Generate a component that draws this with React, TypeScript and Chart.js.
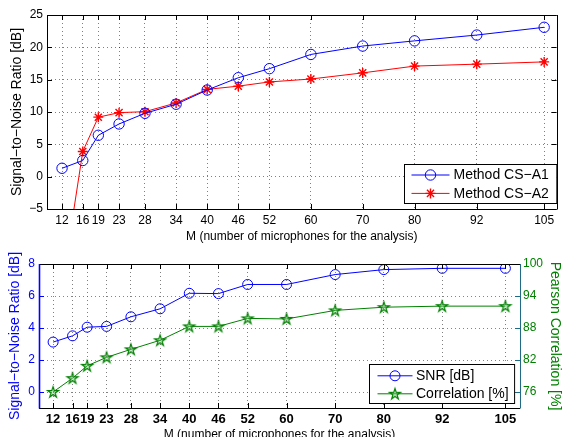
import React, { useEffect, useRef } from 'react';
import { Chart, registerables } from 'chart.js';

Chart.register(...registerables);

// ---- data ----
const M_VALUES = [12, 16, 19, 23, 28, 34, 40, 46, 52, 60, 70, 80, 92, 105];
const SNR_CS_A1 = [1.3, 2.5, 6.4, 8.15, 9.8, 11.2, 13.4, 15.3, 16.7, 18.9, 20.2, 21.0, 21.9, 23.1];
const SNR_CS_A2 = [-17, 3.9, 9.2, 9.9, 10.05, 11.4, 13.5, 14.0, 14.65, 15.1, 16.05, 17.1, 17.4, 17.75];
const SNR_DB = [3.12, 3.51, 4.05, 4.1, 4.7, 5.2, 6.17, 6.15, 6.72, 6.72, 7.34, 7.65, 7.73, 7.73];
const CORRELATION = [76.0, 78.6, 80.9, 82.5, 84.0, 85.7, 88.3, 88.3, 89.8, 89.7, 91.3, 91.9, 92.1, 92.1];
const TOP_Y_TICKS = [-5, 0, 5, 10, 15, 20, 25];
const BOTTOM_LEFT_TICKS = [0, 2, 4, 6, 8];
const BOTTOM_RIGHT_TICKS = [76, 82, 88, 94, 100];

const FONT = '"Liberation Sans", Arial, Helvetica, sans-serif';
const BLUE = '#0000ff';
const RED = '#ff0000';
const GREEN = '#008000';
const TEAL = '#1f6a86';

const fmt = (v: number) => String(v).replace('-', '\u2212');

function makePentagram(color: string, r: number): HTMLCanvasElement {
  const size = Math.ceil(r * 2 + 4);
  const c = document.createElement('canvas');
  c.width = size;
  c.height = size;
  const ctx = c.getContext('2d')!;
  const cx = size / 2;
  const cy = size / 2 + 0.4;
  const inner = r * 0.382;
  ctx.beginPath();
  for (let i = 0; i < 10; i++) {
    const rad = i % 2 === 0 ? r : inner;
    const a = -Math.PI / 2 + (i * Math.PI) / 5;
    const x = cx + rad * Math.cos(a);
    const y = cy + rad * Math.sin(a);
    if (i === 0) ctx.moveTo(x, y);
    else ctx.lineTo(x, y);
  }
  ctx.closePath();
  ctx.fillStyle = 'rgba(120,200,120,0.35)';
  ctx.fill();
  ctx.strokeStyle = color;
  ctx.lineWidth = 1.2;
  ctx.stroke();
  return c;
}

function drawMarker(ctx: CanvasRenderingContext2D, ds: any, x: number, y: number) {
  const style = ds.pointStyle;
  const r = ds.pointRadius;
  ctx.save();
  ctx.strokeStyle = ds.pointBorderColor || ds.borderColor;
  ctx.lineWidth = ds.pointBorderWidth || 1;
  if (style === 'circle') {
    ctx.beginPath();
    ctx.arc(x, y, r, 0, Math.PI * 2);
    ctx.stroke();
  } else if (style === 'star') {
    ctx.beginPath();
    for (let k = 0; k < 4; k++) {
      const a = (k * Math.PI) / 4;
      ctx.moveTo(x - r * Math.cos(a), y - r * Math.sin(a));
      ctx.lineTo(x + r * Math.cos(a), y + r * Math.sin(a));
    }
    ctx.stroke();
  } else if (style && style.width) {
    ctx.drawImage(style, x - style.width / 2, y - style.height / 2);
  }
  ctx.restore();
}

const framePlugin = {
  id: 'frame',
  afterDatasetsDraw(chart: any, _args: any, opts: any) {
    const { ctx, chartArea: a, scales } = chart;
    const L = 5;
    ctx.save();
    ctx.lineWidth = 1;
    const line = (x1: number, y1: number, x2: number, y2: number) => {
      ctx.beginPath();
      ctx.moveTo(x1, y1);
      ctx.lineTo(x2, y2);
      ctx.stroke();
    };
    ctx.strokeStyle = '#000';
    scales.x.ticks.forEach((t: any) => {
      const px = Math.round(scales.x.getPixelForValue(t.value)) + 0.5;
      line(px, a.bottom, px, a.bottom - L);
      line(px, a.top, px, a.top + L);
    });
    const yl = scales[opts.leftId];
    ctx.strokeStyle = opts.leftColor;
    yl.ticks.forEach((t: any) => {
      const py = Math.round(yl.getPixelForValue(t.value)) + 0.5;
      line(a.left, py, a.left + L, py);
      if (!opts.rightId) line(a.right, py, a.right - L, py);
    });
    if (opts.rightId) {
      const yr = scales[opts.rightId];
      ctx.strokeStyle = opts.rightColor;
      yr.ticks.forEach((t: any) => {
        const py = Math.round(yr.getPixelForValue(t.value)) + 0.5;
        line(a.right, py, a.right - L, py);
      });
    }
    ctx.strokeStyle = '#000';
    ctx.lineWidth = 1;
    line(a.left, Math.round(a.top) + 0.5, a.right, Math.round(a.top) + 0.5);
    line(a.left, Math.round(a.bottom) + 0.5, a.right, Math.round(a.bottom) + 0.5);
    ctx.strokeStyle = opts.leftColor;
    ctx.lineWidth = opts.leftWidth || 1;
    line(Math.round(a.left) + 0.5, a.top, Math.round(a.left) + 0.5, a.bottom + 0.5);
    ctx.strokeStyle = opts.rightColor;
    ctx.lineWidth = 1;
    line(Math.round(a.right) + 0.5, a.top, Math.round(a.right) + 0.5, a.bottom + 0.5);
    ctx.restore();
  },
};

const legendPlugin = {
  id: 'boxLegend',
  afterDraw(chart: any, _args: any, o: any) {
    const { ctx, chartArea } = chart;
    const items = chart.data.datasets;
    ctx.save();
    ctx.font = `14px ${FONT}`;
    const textW = Math.max(...items.map((d: any) => ctx.measureText(d.label).width));
    const w = o.padLeft + o.lineLen + o.gap + textW + o.padRight;
    const h = o.height;
    const x1 = Math.round(chartArea.right - o.right - w) + 0.5;
    const y1 = Math.round(chartArea.bottom - o.bottom - h) + 0.5;
    ctx.fillStyle = '#fff';
    ctx.fillRect(x1, y1, w, h);
    ctx.strokeStyle = '#000';
    ctx.lineWidth = 1;
    ctx.strokeRect(x1, y1, w, h);
    items.forEach((d: any, i: number) => {
      const cy = y1 + o.rowTop + i * o.rowGap;
      const lx = x1 + o.padLeft;
      ctx.strokeStyle = d.borderColor;
      ctx.lineWidth = d.borderWidth;
      ctx.beginPath();
      ctx.moveTo(lx, cy);
      ctx.lineTo(lx + o.lineLen, cy);
      ctx.stroke();
      drawMarker(ctx, d, lx + o.lineLen / 2, cy);
      ctx.fillStyle = '#000';
      ctx.textBaseline = 'middle';
      ctx.textAlign = 'left';
      ctx.fillText(d.label, lx + o.lineLen + o.gap, cy + 0.5);
    });
    ctx.restore();
  },
};

const points = (ys: number[]) => ys.map((y, i) => ({ x: M_VALUES[i], y }));

export default function App() {
  const topRef = useRef<HTMLCanvasElement>(null);
  const botRef = useRef<HTMLCanvasElement>(null);

  useEffect(() => {
    document.body.style.margin = '0';
    const pent = makePentagram(GREEN, 5.8);

    const xTicks = (s: any) => {
      s.ticks = M_VALUES.map((v) => ({ value: v }));
    };

    const top = new Chart(topRef.current!, {
      type: 'line',
      data: {
        datasets: [
          {
            label: 'Method CS\u2212A1',
            data: points(SNR_CS_A1),
            borderColor: BLUE,
            borderWidth: 1,
            pointStyle: 'circle',
            pointRadius: 5.2,
            pointBorderWidth: 1,
            pointBorderColor: BLUE,
            pointBackgroundColor: 'rgba(0,0,0,0)',
          } as any,
          {
            label: 'Method CS\u2212A2',
            data: points(SNR_CS_A2),
            borderColor: RED,
            borderWidth: 1,
            pointStyle: 'star',
            pointRadius: 5,
            pointBorderWidth: 1.4,
            pointBorderColor: RED,
            pointBackgroundColor: RED,
          } as any,
        ],
      },
      options: {
        responsive: false,
        animation: false,
        events: [],
        layout: { padding: { top: 15, right: 4, left: 0, bottom: 0 } },
        plugins: {
          legend: { display: false },
          tooltip: { enabled: false },
          frame: { leftId: 'y', leftColor: '#000', rightColor: '#000' },
          boxLegend: { padLeft: 7, lineLen: 38, gap: 4, padRight: 8, height: 39, right: 0, bottom: 6, rowTop: 10.5, rowGap: 18.4 },
        } as any,
        scales: {
          x: {
            type: 'linear',
            min: 9.1,
            max: 107.4,
            afterBuildTicks: xTicks,
            afterFit: (s: any) => {
              s.height = 41;
            },
            grid: { color: 'rgba(0,0,0,0.5)', drawTicks: false },
            border: { display: false, dash: [1, 3] },
            ticks: {
              autoSkip: false,
              maxRotation: 0,
              padding: 4,
              color: '#000',
              font: { family: FONT, size: 12 },
              callback: (v: any) => fmt(v),
            },
            title: {
              display: true,
              text: 'M (number of microphones for the analysis)',
              color: '#000',
              font: { family: FONT, size: 12 },
              padding: { top: 0, bottom: 6.5 },
            },
          },
          y: {
            type: 'linear',
            min: -5,
            max: 25,
            afterBuildTicks: (s: any) => {
              s.ticks = TOP_Y_TICKS.map((v) => ({ value: v }));
            },
            afterFit: (s: any) => {
              s.width = 47;
            },
            grid: { color: 'rgba(0,0,0,0.5)', drawTicks: false },
            border: { display: false, dash: [1, 3] },
            ticks: {
              padding: 4,
              color: '#000',
              font: { family: FONT, size: 12 },
              callback: (v: any) => fmt(v),
            },
            title: {
              display: true,
              text: 'Signal\u2212to\u2212Noise Ratio [dB]',
              color: '#000',
              font: { family: FONT, size: 14 },
              padding: { top: 8.6, bottom: 0 },
            },
          },
        },
      },
      plugins: [framePlugin, legendPlugin],
    });

    const bot = new Chart(botRef.current!, {
      type: 'line',
      data: {
        datasets: [
          {
            label: 'SNR [dB]',
            data: points(SNR_DB),
            yAxisID: 'y',
            borderColor: BLUE,
            borderWidth: 1,
            pointStyle: 'circle',
            pointRadius: 5,
            pointBorderWidth: 1,
            pointBorderColor: BLUE,
            pointBackgroundColor: 'rgba(0,0,0,0)',
          } as any,
          {
            label: 'Correlation [%]',
            data: points(CORRELATION),
            yAxisID: 'y1',
            borderColor: GREEN,
            borderWidth: 1,
            pointStyle: pent,
            pointRadius: 5,
            pointBorderWidth: 1,
            pointBorderColor: GREEN,
          } as any,
        ],
      },
      options: {
        responsive: false,
        animation: false,
        events: [],
        layout: { padding: { top: 14, right: 0, left: 0, bottom: 0 } },
        plugins: {
          legend: { display: false },
          tooltip: { enabled: false },
          frame: { leftId: 'y', rightId: 'y1', leftColor: BLUE, leftWidth: 1.6, rightColor: TEAL },
          boxLegend: { padLeft: 8, lineLen: 35, gap: 3.5, padRight: 6, height: 39, right: 6, bottom: 5, rowTop: 11.3, rowGap: 18 },
        } as any,
        scales: {
          x: {
            type: 'linear',
            min: 9.1,
            max: 108,
            afterBuildTicks: xTicks,
            afterFit: (s: any) => {
              s.height = 39;
            },
            grid: { color: 'rgba(0,0,0,0.5)', drawTicks: false },
            border: { display: false, dash: [1, 3] },
            ticks: {
              autoSkip: false,
              maxRotation: 0,
              padding: 4,
              color: '#000',
              font: { family: FONT, size: 13, weight: 'bold' },
              callback: (v: any) => fmt(v),
            },
            title: {
              display: true,
              text: 'M (number of microphones for the analysis)',
              color: '#000',
              font: { family: FONT, size: 12 },
              padding: { top: 0, bottom: 5 },
            },
          },
          y: {
            type: 'linear',
            position: 'left',
            min: -1,
            max: 8,
            afterBuildTicks: (s: any) => {
              s.ticks = BOTTOM_LEFT_TICKS.map((v) => ({ value: v }));
            },
            afterFit: (s: any) => {
              s.width = 39;
            },
            grid: { color: 'rgba(70,70,255,0.75)', drawTicks: false },
            border: { display: false, dash: [1, 3] },
            ticks: {
              padding: 4,
              color: BLUE,
              font: { family: FONT, size: 12 },
              callback: (v: any) => fmt(v),
            },
            title: {
              display: true,
              text: 'Signal\u2212to\u2212Noise Ratio [dB]',
              color: BLUE,
              font: { family: FONT, size: 14 },
              padding: { top: 6.6, bottom: 0 },
            },
          },
          y1: {
            type: 'linear',
            position: 'right',
            min: 73,
            max: 100,
            afterBuildTicks: (s: any) => {
              s.ticks = BOTTOM_RIGHT_TICKS.map((v) => ({ value: v }));
            },
            afterFit: (s: any) => {
              s.width = 43;
            },
            grid: { display: false, drawTicks: false },
            border: { display: false },
            ticks: {
              padding: 3,
              color: GREEN,
              font: { family: FONT, size: 12 },
              callback: (v: any) => fmt(v),
            },
            title: {
              display: true,
              text: 'Pearson Correlation [%]',
              color: GREEN,
              font: { family: FONT, size: 14 },
              padding: { top: 0, bottom: 0 },
            },
          },
        },
      },
      plugins: [framePlugin, legendPlugin],
    });

    return () => {
      top.destroy();
      bot.destroy();
    };
  }, []);

  return (
    <div
      style={{
        position: 'fixed',
        left: 0,
        top: 0,
        width: 563,
        height: 437,
        overflow: 'hidden',
        background: '#fff',
      }}
    >
      <canvas ref={topRef} width={563} height={250} style={{ position: 'absolute', left: 0, top: 0, display: 'block' }} />
      <canvas ref={botRef} width={563} height={197} style={{ position: 'absolute', left: 0, top: 250, display: 'block' }} />
    </div>
  );
}
